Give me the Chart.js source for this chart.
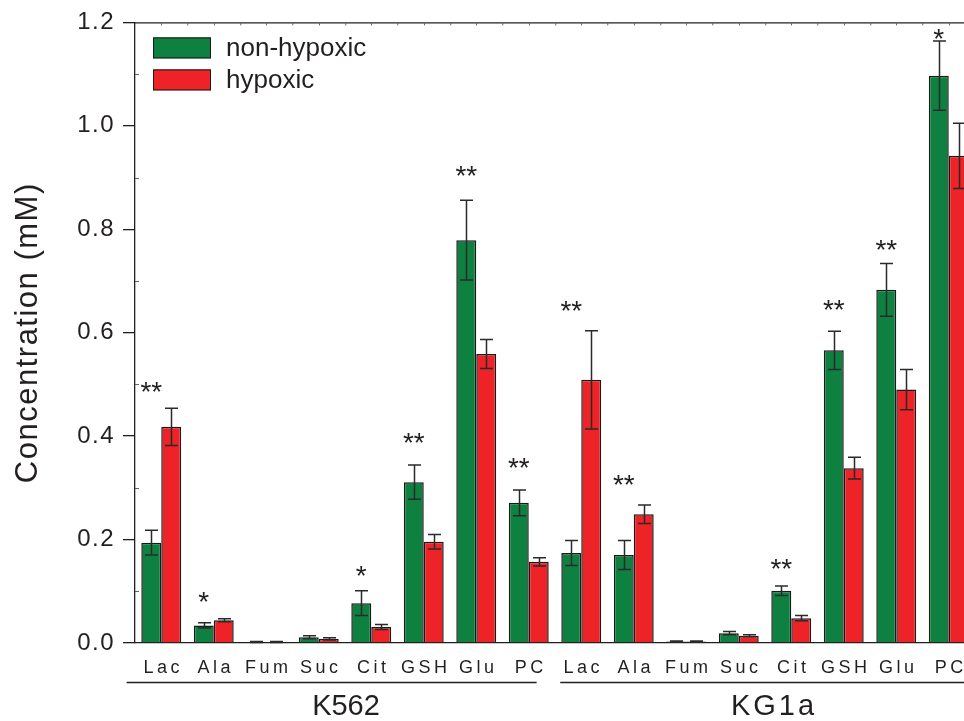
<!DOCTYPE html>
<html>
<head>
<meta charset="utf-8">
<title>Metabolite concentrations, K562 and KG1a</title>
<script src="https://cdn.jsdelivr.net/npm/chart.js@4.4.1/dist/chart.umd.min.js"></script>
<style>
  html, body { margin: 0; padding: 0; background: #fff; overflow: hidden; }
  #wrap { width: 990px; height: 721px; }
</style>
</head>
<body>
<div id="wrap"><canvas id="myChart" width="990" height="721"></canvas></div>
<script>
'use strict';

// two cell lines, eight metabolites each
const categories = ['Lac', 'Ala', 'Fum', 'Suc', 'Cit', 'GSH', 'Glu', 'PC',
  'Lac', 'Ala', 'Fum', 'Suc', 'Cit', 'GSH', 'Glu', 'PC'];
const groups = ['K562', 'KG1a'];
const groupSize = 8;

const seriesNames = ['non-hypoxic', 'hypoxic'];
const nonHypoxic = [0.194, 0.034, 0.002, 0.011, 0.077, 0.311, 0.779, 0.271,
  0.174, 0.170, 0.003, 0.019, 0.101, 0.566, 0.683, 1.097];
const nonHypoxicErr = [0.024, 0.005, 0.001, 0.003, 0.024, 0.033, 0.077, 0.025,
  0.024, 0.028, 0.001, 0.003, 0.009, 0.037, 0.051, 0.067];
const hypoxic = [0.418, 0.044, 0.002, 0.008, 0.031, 0.196, 0.559, 0.157,
  0.509, 0.249, 0.003, 0.014, 0.048, 0.338, 0.490, 0.942];
const hypoxicErr = [0.036, 0.003, 0.001, 0.002, 0.005, 0.014, 0.028, 0.008,
  0.095, 0.018, 0.001, 0.002, 0.005, 0.021, 0.039, 0.063];

// significance marks and the level (mM) they sit at
const significance = ['**', '*', '', '', '*', '**', '**', '**',
  '**', '**', '', '', '**', '**', '**', '*'];
const significanceLevel = [0.499, 0.093, null, null, 0.143, 0.400, 0.916, 0.352,
  0.655, 0.319, null, null, 0.157, 0.657, 0.773, 1.181];

const yTicks = [0, 0.2, 0.4, 0.6, 0.8, 1.0, 1.2];

const fontFamily = '"Liberation Sans", Arial, Helvetica, sans-serif';
const ink = '#231f20';
const green = '#0e8040';
const red = '#ed2327';

function drawErrorBars(chart) {
  const ctx = chart.ctx;
  const yScale = chart.scales.y;
  const errs = [nonHypoxicErr, hypoxicErr];
  ctx.save();
  ctx.strokeStyle = '#2a2a2a';
  ctx.lineWidth = 1.5;
  for (let d = 0; d < errs.length; d++) {
    let meta = chart.getDatasetMeta(d);
    let values = chart.data.datasets[d].data;
    meta.data.forEach(function (bar, i) {
      let x = Math.round(bar.x) + 0.5;
      let top = yScale.getPixelForValue(values[i] + errs[d][i]);
      let bottom = yScale.getPixelForValue(Math.max(0, values[i] - errs[d][i]));
      ctx.beginPath();
      ctx.moveTo(x, top);
      ctx.lineTo(x, bottom);
      ctx.moveTo(x - 6.5, top);
      ctx.lineTo(x + 6.5, top);
      ctx.moveTo(x - 6.5, bottom);
      ctx.lineTo(x + 6.5, bottom);
      ctx.stroke();
    });
  }
  ctx.restore();
}

function drawFrame(chart) {
  const ctx = chart.ctx;
  const area = chart.chartArea;
  const xScale = chart.scales.x;
  const yScale = chart.scales.y;
  const step = xScale.getPixelForValue(1) - xScale.getPixelForValue(0);
  ctx.save();
  ctx.strokeStyle = ink;
  ctx.lineWidth = 1.3;
  // top border
  ctx.beginPath();
  ctx.moveTo(area.left, area.top + 0.5);
  ctx.lineTo(area.right, area.top + 0.5);
  ctx.stroke();
  ctx.lineWidth = 1;
  ctx.strokeStyle = '#666';
  ctx.beginPath();
  for (let i = 0; i < categories.length; i++) {
    let cx = Math.round(xScale.getPixelForValue(i)) + 0.5;
    ctx.moveTo(cx, area.top);
    ctx.lineTo(cx, area.top + 3);
    ctx.moveTo(cx + step / 2, area.top);
    ctx.lineTo(cx + step / 2, area.top + 3);
  }
  // minor y ticks, inward
  for (let i = 0; i < yTicks.length - 1; i++) {
    let y = Math.round(yScale.getPixelForValue((yTicks[i] + yTicks[i + 1]) / 2)) + 0.5;
    ctx.moveTo(area.left, y);
    ctx.lineTo(area.left + 4, y);
  }
  ctx.stroke();
  ctx.restore();
}

function drawLabels(chart) {
  const ctx = chart.ctx;
  const area = chart.chartArea;
  const xScale = chart.scales.x;
  const yScale = chart.scales.y;
  const step = xScale.getPixelForValue(1) - xScale.getPixelForValue(0);
  ctx.save();
  ctx.fillStyle = ink;
  ctx.textAlign = 'center';
  ctx.textBaseline = 'alphabetic';

  // significance asterisks over the non-hypoxic bars
  ctx.font = '28px ' + fontFamily;
  ctx.letterSpacing = '0px';
  const greenBars = chart.getDatasetMeta(0).data;
  for (let i = 0; i < significance.length; i++) {
    if (!significance[i]) continue;
    let y = yScale.getPixelForValue(significanceLevel[i]);
    ctx.fillText(significance[i], greenBars[i].x, y + 16);
  }

  // category labels
  ctx.font = '18px ' + fontFamily;
  ctx.letterSpacing = '3.5px';
  for (let i = 0; i < categories.length; i++) {
    ctx.fillText(categories[i], xScale.getPixelForValue(i) + 2, area.bottom + 30);
  }

  // cell line labels with underline
  ctx.strokeStyle = ink;
  ctx.lineWidth = 1.3;
  for (let g = 0; g < groups.length; g++) {
    let first = xScale.getPixelForValue(g * groupSize);
    let last = xScale.getPixelForValue(g * groupSize + groupSize - 1);
    let x0 = g === 0 ? first - step * 0.66 : first - step * 0.4;
    let x1 = g === groups.length - 1 ? chart.width : last + step * 0.15;
    ctx.beginPath();
    ctx.moveTo(x0, area.bottom + 39.5);
    ctx.lineTo(x1, area.bottom + 39.5);
    ctx.stroke();
    ctx.font = '29px ' + fontFamily;
    ctx.letterSpacing = g === 0 ? '0px' : '3px';
    ctx.fillText(groups[g], (first + last) / 2 + (g === 0 ? 1 : 9), area.bottom + 72);
  }

  // legend, top left inside the plot
  ctx.letterSpacing = '0px';
  ctx.font = '26px ' + fontFamily;
  ctx.textAlign = 'left';
  ctx.textBaseline = 'middle';
  const colors = [green, red];
  for (let s = 0; s < seriesNames.length; s++) {
    let bx = area.left + 18;
    let by = area.top + 15 + s * 32;
    ctx.fillStyle = colors[s];
    ctx.fillRect(bx, by, 58, 21);
    ctx.strokeStyle = '#1a1a1a';
    ctx.lineWidth = 1;
    ctx.strokeRect(bx + 0.5, by + 0.5, 57, 20);
    ctx.fillStyle = ink;
    ctx.fillText(seriesNames[s], bx + 73, by + 11);
  }
  ctx.restore();
}

const annotations = {
  id: 'annotations',
  beforeDraw(chart) {
    // axis texts in the original are slightly spaced out
    chart.ctx.letterSpacing = '1.5px';
  },
  beforeDatasetsDraw(chart) {
    chart.ctx.letterSpacing = '0px';
  },
  afterDatasetsDraw(chart) {
    drawErrorBars(chart);
  },
  afterDraw(chart) {
    drawFrame(chart);
    drawLabels(chart);
  }
};

const data = {
  labels: categories,
  datasets: [{
    label: seriesNames[0],
    data: nonHypoxic,
    backgroundColor: green,
    borderColor: '#1a1a1a',
    borderWidth: 1.5
  },
  {
    label: seriesNames[1],
    data: hypoxic,
    backgroundColor: red,
    borderColor: '#1a1a1a',
    borderWidth: 1.5
  }]
};

const config = {
  type: 'bar',
  data: data,
  options: {
    responsive: false,
    animation: false,
    devicePixelRatio: 1,
    layout: { padding: { top: 22, right: 15, left: 0, bottom: 0 } },
    datasets: {
      bar: { categoryPercentage: 0.76, barPercentage: 1.0 }
    },
    plugins: {
      legend: { display: false },
      tooltip: { enabled: false }
    },
    scales: {
      x: {
        afterFit(scale) { scale.height = 78; },
        ticks: { display: false },
        grid: { display: false },
        border: { display: true, color: ink, width: 1.3 }
      },
      y: {
        min: 0,
        max: 1.2,
        afterFit(scale) { scale.width = 135; },
        afterBuildTicks(scale) {
          scale.ticks = yTicks.map(v => ({ value: v }));
        },
        ticks: {
          padding: 8,
          color: ink,
          font: { family: fontFamily, size: 24 },
          callback: v => Number(v).toFixed(1)
        },
        grid: {
          drawOnChartArea: false,
          drawTicks: true,
          tickLength: 12,
          color: ink,
          lineWidth: 1.3
        },
        border: { display: true, color: ink, width: 1.3 },
        title: {
          display: true,
          text: 'Concentration (mM)',
          color: ink,
          font: { family: fontFamily, size: 31 },
          padding: { top: 10, bottom: 0 }
        }
      }
    }
  },
  plugins: [annotations]
};

let canvasChart = document.getElementById('myChart');
const myChart = new Chart(canvasChart, config);
</script>
</body>
</html>
